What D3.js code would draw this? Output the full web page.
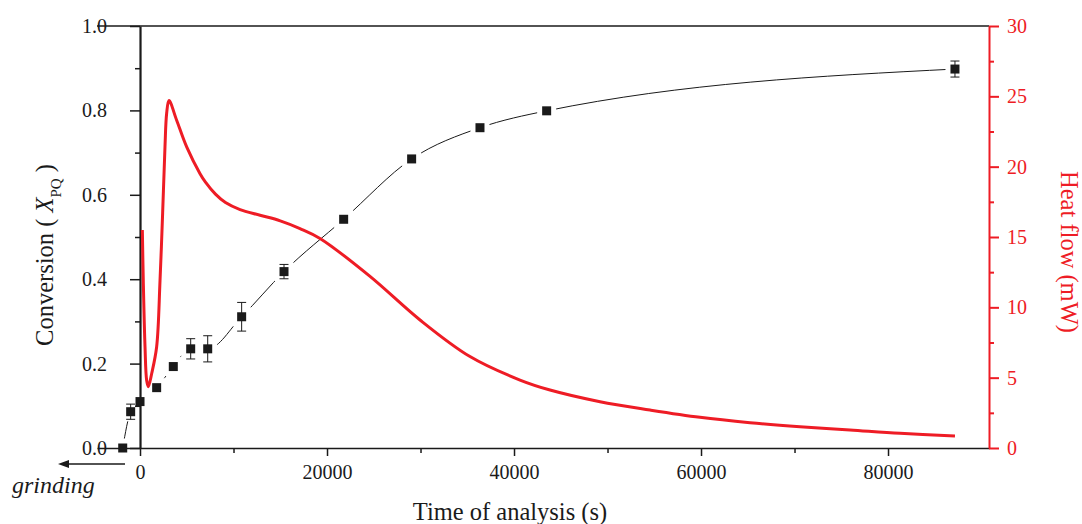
<!DOCTYPE html>
<html>
<head>
<meta charset="utf-8">
<script src="https://cdn.jsdelivr.net/npm/d3@7"></script>
<style>
  html, body { margin: 0; padding: 0; background: #fff; }
  svg { display: block; font-family: "Liberation Serif", "Times New Roman", Times, serif; }
</style>
</head>
<body>
<svg id="chart" width="1082" height="524"></svg>
<script>
// ---- Data ----
// Conversion X_PQ (left axis) vs time (s)
const convTime  = [-1850, -1000, 0, 1780, 3560, 5420, 7240, 10870, 15400, 21780, 29050, 36360, 43490, 87160];
const convValue = [0.000, 0.086, 0.110, 0.143, 0.193, 0.235, 0.235, 0.311, 0.418, 0.542, 0.685, 0.759, 0.799, 0.898];
const convError = [0, 0.018, 0, 0, 0, 0.024, 0.031, 0.034, 0.017, 0, 0, 0, 0, 0.019];

// Heat flow (mW, right axis) vs time (s)
const heatTime = [250, 350, 535, 713, 890, 1250, 1780, 2140, 2420, 2670, 2850, 3100, 3920, 4990, 6420, 7000, 8070,
                  9140, 10700, 12840, 15000, 17110,
                  19250, 24600, 29950, 35290, 40640, 43850, 49200, 54550, 59890, 65240, 70590, 75930, 81280, 87160];
const heatFlow = [15.5, 11.9, 7.2, 4.8, 4.36, 5.3, 7.2, 11.9, 16.7, 21.4, 23.8, 24.7, 23.3, 21.4, 19.5, 18.9, 18.05,
                  17.45, 16.95, 16.55, 16.15, 15.6,
                  14.9, 12.2, 9.1, 6.5, 4.83, 4.12, 3.29, 2.70, 2.18, 1.80, 1.51, 1.28, 1.04, 0.85];

// Axis ticks
const xMajor = [0, 20000, 40000, 60000, 80000];
const xMinor = [10000, 30000, 50000, 70000];
const yLMajor = [0, 0.2, 0.4, 0.6, 0.8, 1.0];
const yLMinor = [0.1, 0.3, 0.5, 0.7, 0.9];
const yRMajor = [0, 5, 10, 15, 20, 25, 30];
const yRMinor = [2.5, 7.5, 12.5, 17.5, 22.5, 27.5];

// ---- Layout ----
const RED = "#ee1c25";
const INK = "#1a1a1a";
const FONT = "'Liberation Serif', 'Times New Roman', Times, serif";
const svg = d3.select("#chart");

const x = d3.scaleLinear().domain([-4600, 90800]).range([97, 989]);
const yL = d3.scaleLinear().domain([0, 1]).range([448, 26]);
const yR = d3.scaleLinear().domain([0, 30]).range([448, 26]);

// Bottom axis and top frame line
const xAxisG = svg.append("g").attr("transform", `translate(0,${yL(0)})`)
  .call(d3.axisBottom(x).tickValues(xMajor).tickSize(8).tickSizeOuter(0).tickPadding(9)
        .tickFormat(d3.format("d")));
svg.append("g").attr("class", "minor").attr("transform", `translate(0,${yL(0)})`)
  .call(d3.axisBottom(x).tickValues(xMinor).tickSize(5).tickSizeOuter(0).tickFormat(""))
  .select(".domain").remove();
svg.append("line").attr("x1", x.range()[0]).attr("x2", x.range()[1])
  .attr("y1", yL(1)).attr("y2", yL(1)).attr("stroke", INK).attr("stroke-width", 1.5);

// Left axis at t = 0
const yLG = svg.append("g").attr("transform", `translate(${x(0)},0)`)
  .call(d3.axisLeft(yL).tickValues(yLMajor).tickSize(10).tickSizeOuter(0).tickPadding(23)
        .tickFormat(d3.format(".1f")));
svg.append("g").attr("class", "minor").attr("transform", `translate(${x(0)},0)`)
  .call(d3.axisLeft(yL).tickValues(yLMinor).tickSize(5).tickSizeOuter(0).tickFormat(""))
  .select(".domain").remove();

// Right axis
const yRG = svg.append("g").attr("transform", `translate(${x.range()[1]},0)`)
  .call(d3.axisRight(yR).tickValues(yRMajor).tickSize(10).tickSizeOuter(0).tickPadding(8)
        .tickFormat(d3.format("d")));
const yRmin = svg.append("g").attr("transform", `translate(${x.range()[1]},0)`)
  .call(d3.axisRight(yR).tickValues(yRMinor).tickSize(5).tickSizeOuter(0).tickFormat(""));
yRmin.select(".domain").remove();

svg.selectAll("g").attr("font-family", FONT);
svg.selectAll(".tick text").attr("font-size", 20).attr("fill", INK);
svg.selectAll(".domain, .tick line").attr("stroke", INK).attr("stroke-width", 1.5);
yLG.select(".domain").attr("stroke-width", 2.2);
yRG.selectAll(".domain, .tick line").attr("stroke", RED).attr("stroke-width", 2);
yRmin.selectAll(".tick line").attr("stroke", RED).attr("stroke-width", 2);
yRG.selectAll(".tick text").attr("fill", RED);

// ---- Conversion curve with gaps at markers ----
const pts = convTime.map((t, i) => ({ t, v: convValue[i], e: convError[i] }));
const defs = svg.append("defs");
const mask = defs.append("mask").attr("id", "gapMask").attr("maskUnits", "userSpaceOnUse")
  .attr("x", 0).attr("y", 0).attr("width", 1082).attr("height", 524);
mask.append("rect").attr("width", 1082).attr("height", 524).attr("fill", "white");
const MS = 9, GAP = 5;
mask.selectAll("rect.g").data(pts).join("rect").attr("class", "g")
  .attr("x", d => x(d.t) - MS / 2 - GAP).attr("y", d => yL(d.v) - MS / 2 - GAP)
  .attr("width", MS + 2 * GAP).attr("height", MS + 2 * GAP).attr("fill", "black");

const convLine = d3.line().x(d => x(d.t)).y(d => yL(d.v)).curve(d3.curveMonotoneX);
svg.append("path").datum(pts).attr("d", convLine)
  .attr("fill", "none").attr("stroke", INK).attr("stroke-width", 1).attr("mask", "url(#gapMask)");

// error bars
const eb = svg.append("g").selectAll("g").data(pts.filter(d => d.e > 0)).join("g")
  .attr("stroke", INK).attr("stroke-width", 1);
eb.append("line").attr("x1", d => x(d.t)).attr("x2", d => x(d.t))
  .attr("y1", d => yL(d.v + d.e)).attr("y2", d => yL(d.v - d.e));
eb.append("line").attr("x1", d => x(d.t) - 4.5).attr("x2", d => x(d.t) + 4.5)
  .attr("y1", d => yL(d.v + d.e)).attr("y2", d => yL(d.v + d.e));
eb.append("line").attr("x1", d => x(d.t) - 4.5).attr("x2", d => x(d.t) + 4.5)
  .attr("y1", d => yL(d.v - d.e)).attr("y2", d => yL(d.v - d.e));

// markers
svg.append("g").selectAll("rect").data(pts).join("rect")
  .attr("x", d => x(d.t) - MS / 2).attr("y", d => yL(d.v) - MS / 2)
  .attr("width", MS).attr("height", MS).attr("fill", INK);

// ---- Heat flow curve ----
const heat = heatTime.map((t, i) => ({ t, v: heatFlow[i] }));
svg.append("path").datum(heat)
  .attr("d", d3.line().x(d => x(d.t)).y(d => yR(d.v)).curve(d3.curveCatmullRom.alpha(0.5)))
  .attr("fill", "none").attr("stroke", RED).attr("stroke-width", 3).attr("stroke-linejoin", "round");

// ---- Titles ----
svg.append("text").attr("x", 510).attr("y", 520).attr("text-anchor", "middle")
  .attr("font-family", FONT).attr("font-size", 24.5).attr("fill", INK).text("Time of analysis (s)");

const lt = svg.append("text").attr("transform", "translate(53,255) rotate(-90)")
  .attr("text-anchor", "middle").attr("font-family", FONT).attr("font-size", 24.5).attr("fill", INK);
lt.append("tspan").text("Conversion ( ");
lt.append("tspan").attr("font-style", "italic").text("X");
lt.append("tspan").attr("font-size", 15).attr("dy", 8).text("PQ");
lt.append("tspan").attr("dy", -8).text(" )");

svg.append("text").attr("transform", "translate(1061,252) rotate(90)")
  .attr("text-anchor", "middle").attr("font-family", FONT).attr("font-size", 24.5).attr("fill", RED)
  .text("Heat flow (mW)");

// grinding arrow
svg.append("line").attr("x1", 125).attr("x2", 66).attr("y1", 464).attr("y2", 464)
  .attr("stroke", INK).attr("stroke-width", 1.5);
svg.append("path").attr("d", "M58,464 L69,460 L69,468 Z").attr("fill", INK);
svg.append("text").attr("x", 12).attr("y", 493).attr("font-family", FONT).attr("font-size", 24)
  .attr("font-style", "italic").attr("fill", INK).text("grinding");
</script>
</body>
</html>
